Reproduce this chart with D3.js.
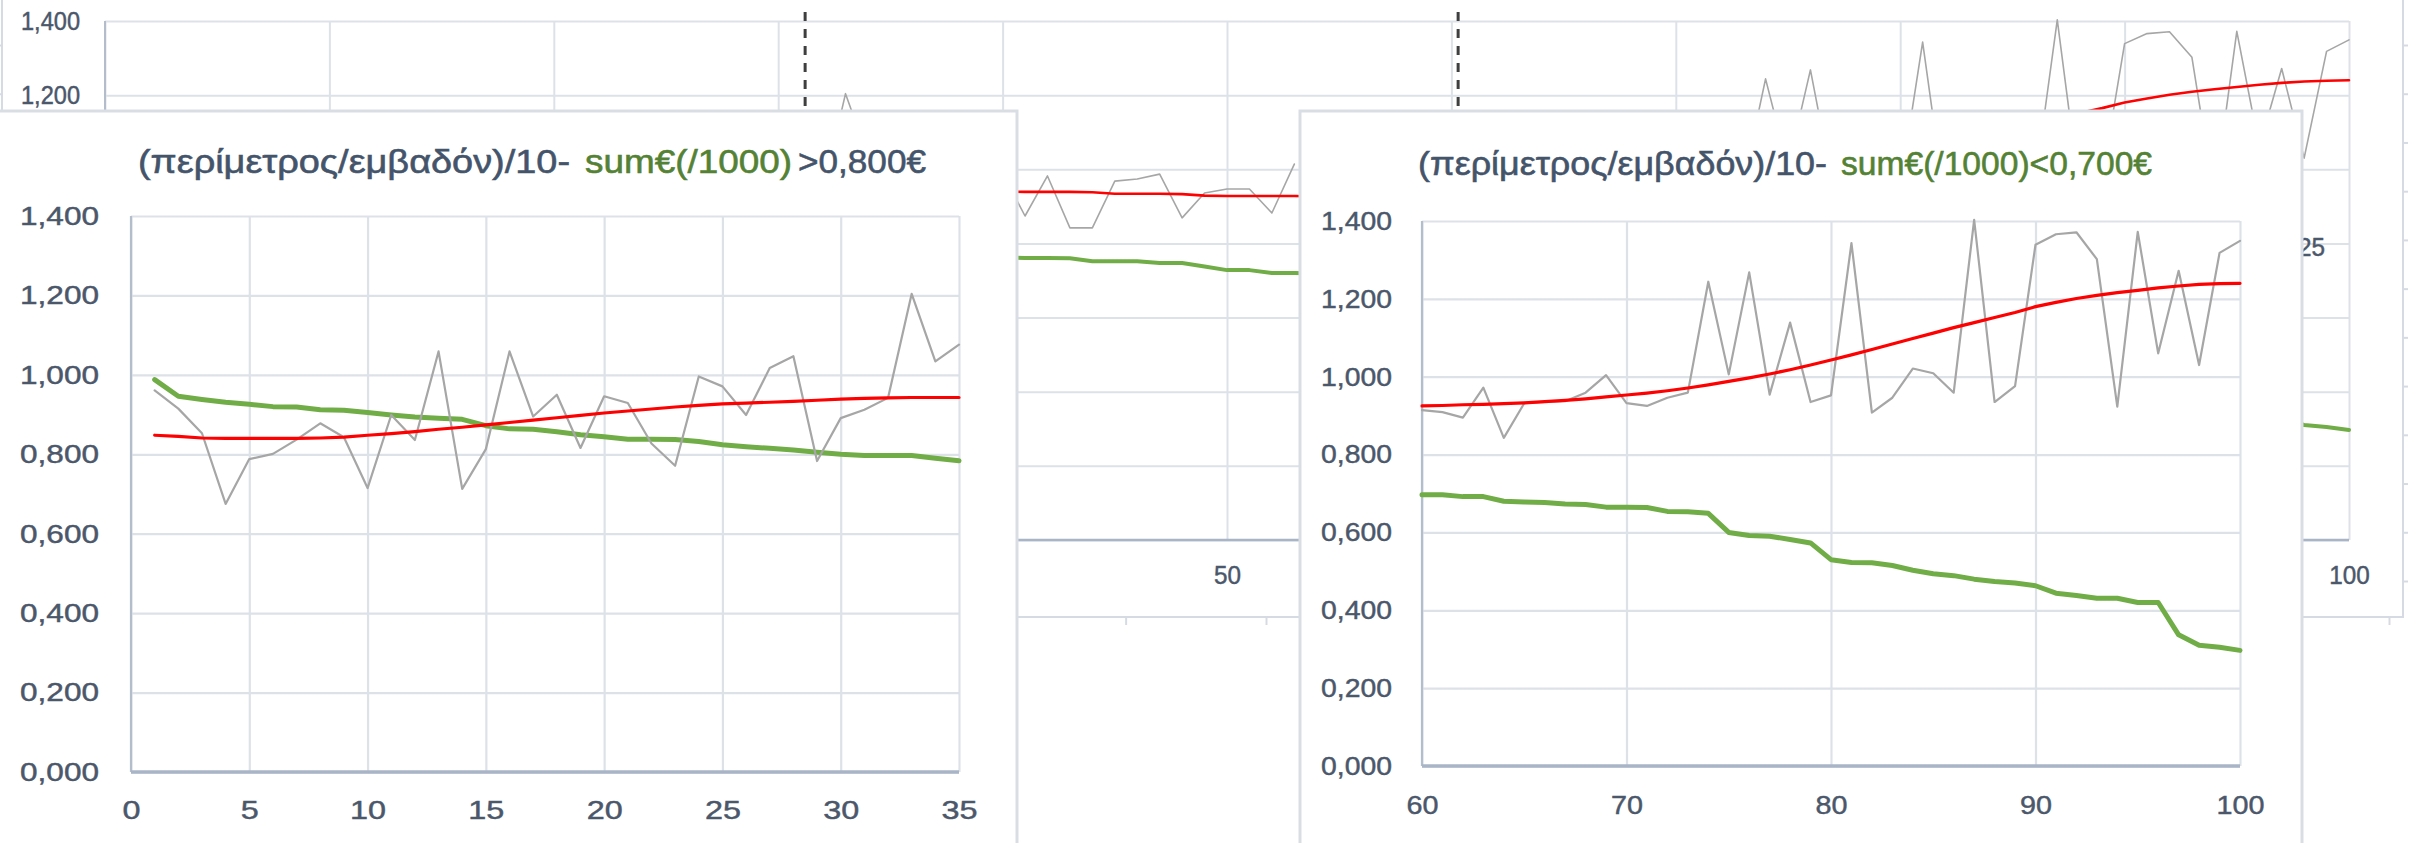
<!DOCTYPE html>
<html>
<head>
<meta charset="utf-8">
<script src="https://cdn.jsdelivr.net/npm/d3@7"></script>
<style>
  html, body { margin: 0; padding: 0; background: #ffffff; }
  svg { display: block; }
</style>
</head>
<body>
<svg id="chart" width="2423" height="843"></svg>
<script>
// ---- data: one value per index 1..100 (null where not recorded) ----
const indexes = d3.range(1, 101);

// (περίμετρος/εμβαδόν)/10
const ratio = [
  0.961, 0.915, 0.853, 0.675, 0.788, 0.801, 0.837, 0.878, 0.843, 0.715,
  0.899, 0.836, 1.059, 0.713, 0.813, 1.059, 0.895, 0.950, 0.816, 0.946,
  0.929, 0.827, 0.771, 0.996, 0.971, 0.899, 1.017, 1.047, 0.783, 0.891,
  0.912, 0.942, 1.204, 1.034, 1.076, null, null, null, null, 0.990,
  0.874, 0.982, 0.842, 0.842, 0.968, 0.974, 0.987, 0.869, 0.936, 0.947,
  0.947, 0.882, 1.014, null, null, null, null, null, null, 0.914,
  0.909, 0.895, 0.972, 0.843, 0.932, 0.935, 0.937, 0.959, 1.004, 0.932,
  0.925, 0.946, 0.959, 1.244, 1.006, 1.268, 0.954, 1.139, 0.935, 0.952,
  1.343, 0.908, 0.946, 1.021, 1.009, 0.959, 1.403, 0.935, 0.976, 1.339,
  1.366, 1.371, 1.302, 0.923, 1.372, 1.060, 1.272, 1.030, 1.318, 1.349
];

// trend of the ratio
const trend = [
  0.848, 0.845, 0.841, 0.840, 0.840, 0.840, 0.840, 0.841, 0.843, 0.848,
  0.852, 0.857, 0.863, 0.868, 0.874, 0.880, 0.886, 0.892, 0.898, 0.904,
  0.909, 0.914, 0.919, 0.923, 0.927, 0.929, 0.931, 0.933, 0.936, 0.939,
  0.941, 0.942, 0.943, 0.943, 0.943, null, null, null, null, 0.940,
  0.939, 0.939, 0.939, 0.938, 0.934, 0.934, 0.934, 0.933, 0.929, 0.928,
  0.928, 0.928, 0.928, 0.927, null, null, null, null, null, 0.925,
  0.926, 0.928, 0.929, 0.931, 0.933, 0.936, 0.939, 0.943, 0.948, 0.953,
  0.958, 0.964, 0.971, 0.979, 0.988, 0.997, 1.007, 1.018, 1.030, 1.043,
  1.056, 1.070, 1.084, 1.098, 1.112, 1.126, 1.139, 1.152, 1.165, 1.180,
  1.191, 1.201, 1.209, 1.216, 1.222, 1.228, 1.233, 1.237, 1.239, 1.240
];

// sum€ (/1000)
const sumK = [
  0.988, 0.946, 0.938, 0.931, 0.926, 0.920, 0.919, 0.912, 0.911, 0.905,
  0.899, 0.894, 0.891, 0.888, 0.872, 0.864, 0.863, 0.857, 0.849, 0.844,
  0.838, 0.838, 0.837, 0.832, 0.824, 0.819, 0.815, 0.811, 0.805, 0.800,
  0.797, 0.797, 0.797, 0.790, 0.784, null, null, null, null, 0.762,
  0.761, 0.761, 0.760, 0.752, 0.752, 0.752, 0.747, 0.747, 0.738, 0.728,
  0.728, 0.720, 0.720, 0.719, null, null, null, null, null, 0.697,
  0.697, 0.692, 0.692, 0.680, 0.678, 0.677, 0.673, 0.672, 0.665, 0.665,
  0.664, 0.654, 0.653, 0.649, 0.600, 0.592, 0.590, 0.582, 0.573, 0.530,
  0.523, 0.522, 0.515, 0.503, 0.494, 0.489, 0.480, 0.474, 0.470, 0.463,
  0.444, 0.438, 0.431, 0.431, 0.420, 0.420, 0.337, 0.310, 0.305, 0.297
];

// limits where sum€ passes 0,800€ and 0,700€
const limitMarks = [31.2, 60.3];

// tick values
const yTicks = [0, 0.2, 0.4, 0.6, 0.8, 1.0, 1.2, 1.4];
const fullXTicks = d3.range(0, 101, 10);
const lowXTicks = d3.range(0, 36, 5);
const highXTicks = d3.range(60, 101, 10);
// labels of the full chart that stay in view around the two panels
const fullYLabels = [1.2, 1.4];
const fullXLabels = [50, 100];

// titles
const titleLead = "(περίμετρος/εμβαδόν)/10-";
const titleSum = "sum€(/1000)";
const titleHigh = ">0,800€";
const titleLowFull = "sum€(/1000)<0,700€";

// ---- styles ----
const FONT = "'Liberation Sans', Arial, 'Noto Sans', sans-serif";
const C = {
  grid: "#dde2e9",
  axis: "#b3bdcc",
  label: "#4b576a",
  title: "#44546a",
  titleGreen: "#548235",
  ratio: "#a6a6a6",
  trend: "#ff0000",
  sum: "#70ad47",
  frame: "#d6dbe3",
  panelBorder: "#d9dde4"
};

const fmt = v => d3.format(".3f")(v).replace(".", ",");
const rows = indexes.map((n, i) => ({ n, ratio: ratio[i], trend: trend[i], sum: sumK[i] }));

const svg = d3.select("#chart");
svg.append("rect").attr("width", 2423).attr("height", 843).attr("fill", "#fff");

// widen labels to a fixed advance per character
function fitText(sel, digitW, commaW) {
  sel.attr("textLength", function () {
    let w = 0;
    for (const ch of this.textContent) w += (ch === "," ? commaW : digitW);
    return w;
  }).attr("lengthAdjust", "spacingAndGlyphs");
}

function styleLabels(sel, o, color) {
  sel.attr("fill", color).attr("font-family", FONT).attr("font-size", o.fs)
    .attr("stroke", color).attr("stroke-width", 0.45);
}

function drawPlot(g, o) {
  const [x0, x1] = o.x.range();
  const [yb, yt] = o.y.range();
  const yShown = o.yLabels || yTicks;
  const xShown = o.xLabels || o.xTicks;

  // horizontal gridlines + value labels
  const gy = g.append("g")
    .attr("transform", `translate(${x0},0)`)
    .call(d3.axisLeft(o.y).tickValues(yTicks).tickSize(-(x1 - x0)).tickSizeOuter(0)
      .tickPadding(o.yPad).tickFormat(fmt));
  gy.select(".domain").remove();
  gy.selectAll("line").attr("stroke", C.grid).attr("stroke-width", o.gridW);
  gy.selectAll(".tick").filter(d => !yShown.includes(d)).select("text").remove();
  gy.selectAll("text").call(styleLabels, o, C.label).call(fitText, o.yDigit, o.yComma);

  // vertical gridlines + index labels
  const gx = g.append("g")
    .attr("transform", `translate(0,${yb})`)
    .call(d3.axisBottom(o.x).tickValues(o.xTicks).tickSize(-(yb - yt)).tickSizeOuter(0)
      .tickPadding(o.xPad).tickFormat(d3.format("d")));
  gx.select(".domain").remove();
  gx.selectAll("line").attr("stroke", C.grid).attr("stroke-width", o.gridW);
  gx.selectAll(".tick").filter(d => !xShown.includes(d)).select("text").remove();
  gx.selectAll("text").call(styleLabels, o, C.label).call(fitText, o.xDigit, o.xDigit);

  // axis lines
  g.append("line").attr("x1", x0).attr("x2", x0).attr("y1", yt).attr("y2", yb)
    .attr("stroke", C.axis).attr("stroke-width", o.leftW);
  g.append("line").attr("x1", x0).attr("x2", x1).attr("y1", yb).attr("y2", yb)
    .attr("stroke", "#a9b4c6").attr("stroke-width", o.bottomW);

  if (o.marks) {
    g.append("g").selectAll("line").data(o.marks).join("line")
      .attr("x1", d => o.x(d)).attr("x2", d => o.x(d))
      .attr("y1", yt - 9).attr("y2", yb)
      .attr("stroke", "#3f3f3f").attr("stroke-width", 3).attr("stroke-dasharray", "9,8");
  }

  const data = rows.filter(d => d.n >= o.from && d.n <= o.to);
  const series = [
    { key: "sum", color: C.sum, w: o.sumW },
    { key: "ratio", color: C.ratio, w: o.ratioW },
    { key: "trend", color: C.trend, w: o.trendW }
  ];
  series.forEach(s => {
    const line = d3.line().defined(d => d[s.key] != null)
      .x(d => o.x(d.n)).y(d => o.y(d[s.key]));
    g.append("path").datum(data).attr("d", line)
      .attr("fill", "none").attr("stroke", s.color).attr("stroke-width", s.w)
      .attr("stroke-linejoin", "round").attr("stroke-linecap", "round");
  });
}

function drawTitle(g, parts, y, fs) {
  const t = g.append("g").attr("font-family", FONT).attr("font-size", fs);
  parts.forEach(p => {
    t.append("text").attr("x", p.x).attr("y", y)
      .attr("fill", p.color).attr("stroke", p.color).attr("stroke-width", 0.6)
      .attr("textLength", p.w).attr("lengthAdjust", "spacingAndGlyphs").text(p.text);
  });
}

// ---- back frame (empty plot area with outer ticks) ----
const frame = svg.append("g");
const frameRows = d3.scaleLinear().domain([0, 11]).range([45, 581]);
const frameCols = d3.scaleLinear().domain([0, 8]).range([1266, 2389]);
const frameLeft = 2, frameRight = 2403, frameBottom = 617;
frame.append("path")
  .attr("d", `M${frameLeft},-5V${frameBottom}H${frameRight}V-5`)
  .attr("fill", "none").attr("stroke", C.frame).attr("stroke-width", 2);
frame.append("g").attr("transform", `translate(${frameRight},0)`)
  .call(d3.axisRight(frameRows).tickValues(d3.range(0, 12)).tickSize(5).tickFormat(""))
  .call(a => a.select(".domain").remove())
  .selectAll("line").attr("stroke", C.frame).attr("stroke-width", 2);
frame.append("g").attr("transform", `translate(${frameLeft},0)`)
  .call(d3.axisLeft(frameRows).tickValues(d3.range(0, 12)).tickSize(5).tickFormat(""))
  .call(a => a.select(".domain").remove())
  .selectAll("line").attr("stroke", C.frame).attr("stroke-width", 2);
frame.append("g").attr("transform", `translate(0,${frameBottom})`)
  .call(d3.axisBottom(frameCols).tickValues(d3.range(-9, 9)).tickSize(8).tickFormat(""))
  .call(a => a.select(".domain").remove())
  .selectAll("line").attr("stroke", C.frame).attr("stroke-width", 2);

// ---- full range chart 1..100 ----
const full = svg.append("g");
drawPlot(full, {
  x: d3.scaleLinear().domain([0, 100]).range([105, 2349]),
  y: d3.scaleLinear().domain([0, 1.4]).range([540, 21]),
  xTicks: fullXTicks, from: 1, to: 100,
  yLabels: fullYLabels, xLabels: fullXLabels,
  gridW: 2, leftW: 2, bottomW: 2.5,
  fs: 25, yPad: 25, xPad: 26,
  yDigit: 13, yComma: 7, xDigit: 13.5,
  sumW: 4, ratioW: 1.6, trendW: 2.6,
  marks: limitMarks
});

// index label from a layer underneath
svg.append("text").attr("x", 2325).attr("y", 256)
  .attr("text-anchor", "end").call(styleLabels, { fs: 25 }, C.label)
  .text("25").call(fitText, 13.5, 7);

// ---- panel: indexes 1..35 ----
const left = svg.append("g");
left.append("rect").attr("x", -3).attr("y", 111).attr("width", 1020).attr("height", 800)
  .attr("fill", "#fff").attr("stroke", C.panelBorder).attr("stroke-width", 3);
drawPlot(left, {
  x: d3.scaleLinear().domain([0, 35]).range([131, 959]),
  y: d3.scaleLinear().domain([0, 1.4]).range([772, 216]),
  xTicks: lowXTicks, from: 1, to: 35,
  gridW: 2.2, leftW: 2.2, bottomW: 3.5,
  fs: 26, yPad: 32, xPad: 28.5,
  yDigit: 18, yComma: 7, xDigit: 18,
  sumW: 5, ratioW: 2.2, trendW: 3.2
});
drawTitle(left, [
  { text: titleLead, x: 138, w: 432, color: C.title },
  { text: titleSum, x: 585, w: 207, color: C.titleGreen },
  { text: titleHigh, x: 798, w: 128, color: C.title }
], 173, 34);

// ---- panel: indexes 60..100 ----
const right = svg.append("g");
right.append("rect").attr("x", 1300).attr("y", 111).attr("width", 1002).attr("height", 800)
  .attr("fill", "#fff").attr("stroke", C.panelBorder).attr("stroke-width", 3);
drawPlot(right, {
  x: d3.scaleLinear().domain([60, 100]).range([1422, 2240]),
  y: d3.scaleLinear().domain([0, 1.4]).range([766, 221]),
  xTicks: highXTicks, from: 60, to: 100,
  gridW: 2.2, leftW: 2.2, bottomW: 3.5,
  fs: 26, yPad: 30, xPad: 29.5,
  yDigit: 16, yComma: 7, xDigit: 16,
  sumW: 5, ratioW: 2.2, trendW: 3.2
});
drawTitle(right, [
  { text: titleLead, x: 1418, w: 409, color: C.title },
  { text: titleLowFull, x: 1841, w: 311, color: C.titleGreen }
], 175, 34);
</script>
</body>
</html>
